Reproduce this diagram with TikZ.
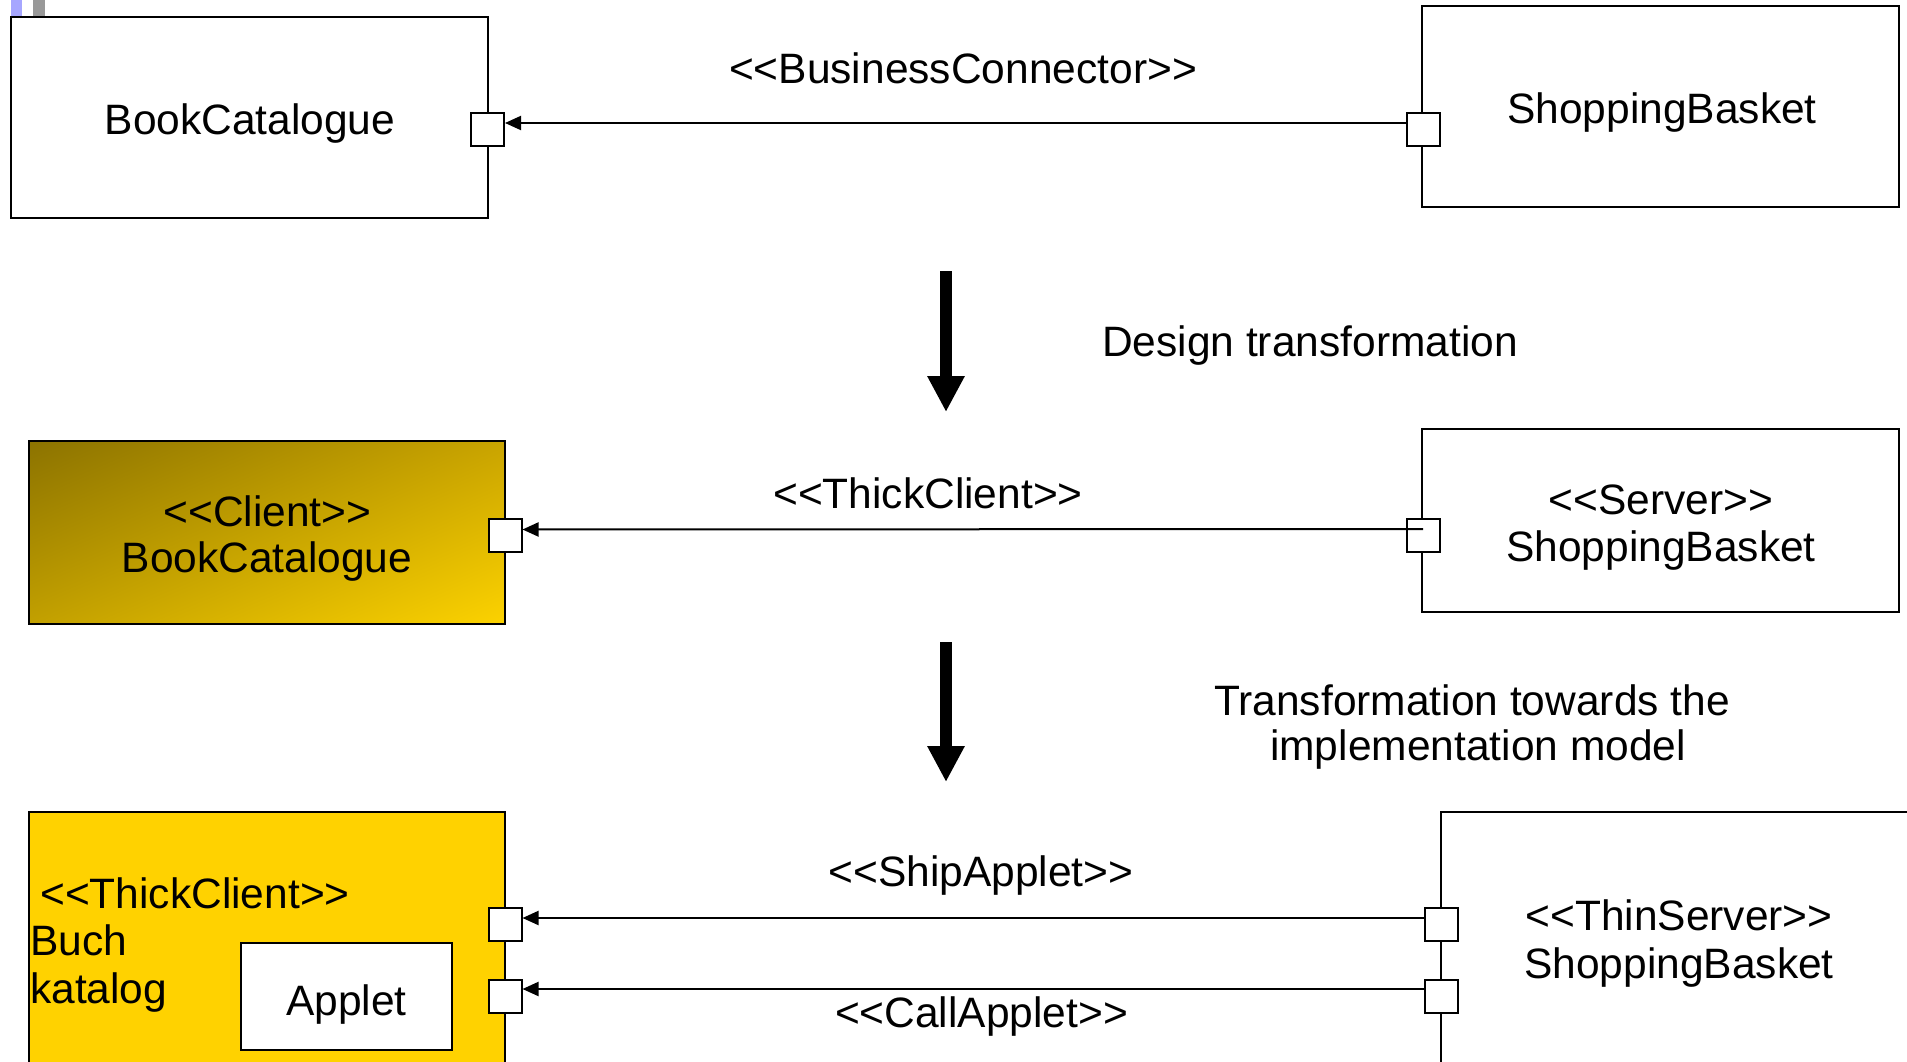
\documentclass[tikz,border=0pt]{standalone}
\usepackage{fontspec}
\setmainfont{Liberation Sans}
\usetikzlibrary{arrows.meta,shadings}
\definecolor{goldfill}{HTML}{FFD200}
\definecolor{gradUL}{HTML}{8C7300}
\definecolor{gradUR}{HTML}{C9A400}
\definecolor{gradLL}{HTML}{C2A000}
\definecolor{gradLR}{HTML}{FCD200}
\definecolor{tickblue}{HTML}{A6A6FF}
\definecolor{tickgrey}{HTML}{999999}
\tikzset{
  box/.style={draw=black, line width=2pt, rectangle, inner sep=0pt},
  port/.style={draw=black, line width=2pt, fill=white, rectangle, minimum size=33pt, inner sep=0pt},
  conn/.style={line width=2pt, -{Triangle[length=16pt,width=14pt]}},
  bigarrow/.style={line width=12pt, -{Triangle[length=36pt,width=35pt]}},
  txt/.style={inner sep=0pt, anchor=base, font=\fontsize{42.5}{46}\selectfont},
  ltxt/.style={txt, anchor=base west},
}
\begin{document}
\begin{tikzpicture}[x=1pt,y=-1pt]
\useasboundingbox (0,0) rectangle (1907,1062);
\clip (0,0) rectangle (1907,1062);
\fill[white] (0,0) rectangle (1907,1062);
% slide artefacts
\fill[tickblue] (11,0) rectangle (22,16);
\fill[tickgrey] (33,0) rectangle (45,16);

% ---- top row
\node[box, minimum width=477pt, minimum height=201pt] (bc1) at (249.5,117.5) {};
\node[box, minimum width=477pt, minimum height=201pt] (sb1) at (1660.5,106.5) {};
\node[port] (lp1) at (487.5,129.5) {};
\node[port] (rp1) at (1423,129.5) {};
\draw[conn] ([yshift=6.5pt]rp1.west) -- ([yshift=6.5pt]lp1.east);
\node[txt] (t1) at (250,135) {BookCatalogue};
\node[txt] (t2) at (1662,124) {ShoppingBasket};
\node[txt] (t3) at (963,84) {<{}<BusinessConnector>{}>};

% ---- arrow 1
\coordinate (a1s) at (946,271);
\coordinate (a1e) at (946,412);
\draw[bigarrow] (a1s) -- (a1e);
\node[txt] (t4) at (1310,356) {Design transformation};

% ---- middle row
\node[box, minimum width=476pt, minimum height=183pt,
      upper left=gradUL, upper right=gradUR, lower left=gradLL, lower right=gradLR] (bc2) at (267,532.5) {};
\node[box, minimum width=477pt, minimum height=183pt] (sb2) at (1660.5,520.5) {};
\node[port] (lp2) at (505,535.5) {};
\node[port] (rp2) at (1423,535) {};
\draw[conn] ([yshift=6pt]rp2.center) -- ([yshift=6pt]lp2.east);
\node[txt] (t5) at (928,508) {<{}<ThickClient>{}>};
\node[txt] (t6) at (267.5,526) {<{}<Client>{}>};
\node[txt] (t7) at (267,572) {BookCatalogue};
\node[txt] (t8) at (1661,514) {<{}<Server>{}>};
\node[txt] (t9) at (1661,561) {ShoppingBasket};

% ---- arrow 2
\coordinate (a2s) at (946,642);
\coordinate (a2e) at (946,782);
\draw[bigarrow] (a2s) -- (a2e);
\node[txt] (t10) at (1472,715) {Transformation towards the};
\node[txt] (t11) at (1478,760) {implementation model};

% ---- bottom row
\node[box, fill=goldfill, minimum width=476pt, minimum height=288pt] (bc3) at (267,956) {};
\node[box, minimum width=509pt, minimum height=288pt] (sb3) at (1695.5,956) {};
\node[box, fill=white, minimum width=211pt, minimum height=107pt] (ap) at (346.5,996.5) {};
\node[port] (lp3) at (505,924) {};
\node[port] (lp4) at (505,996) {};
\node[port] (rp3) at (1441,924) {};
\node[port] (rp4) at (1441,996) {};
\draw[conn] ([yshift=6pt]rp3.west) -- ([yshift=6pt]lp3.east);
\draw[conn] ([yshift=7pt]rp4.west) -- ([yshift=7pt]lp4.east);
\node[txt] (t12) at (981,886) {<{}<ShipApplet>{}>};
\node[txt] (t13) at (981.5,1027) {<{}<CallApplet>{}>};
\node[ltxt] (t14) at (40,908) {<{}<ThickClient>{}>};
\node[ltxt] (t15) at (30,955) {Buch};
\node[ltxt] (t16) at (30,1003) {katalog};
\node[txt] (t17) at (346.5,1015) {Applet};
\node[txt] (t18) at (1679,930) {<{}<ThinServer>{}>};
\node[txt] (t19) at (1679,978) {ShoppingBasket};
\end{tikzpicture}
\end{document}
